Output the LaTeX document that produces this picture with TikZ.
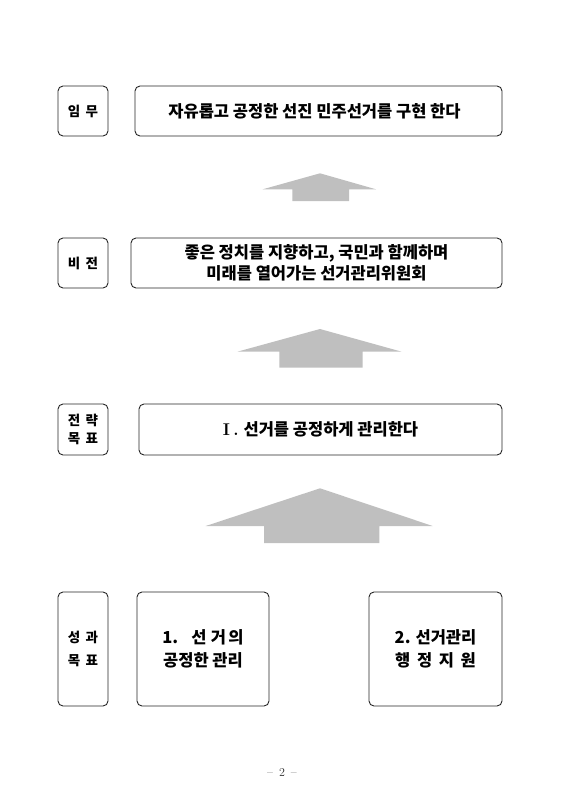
\documentclass[tikz,border=0pt]{standalone}
\usepackage{fontspec}
\newfontfamily\kr{Noto Sans CJK KR}
\tikzset{
  lab/.style={draw=black!85, line width=0.9pt, rounded corners=5pt, inner sep=0pt, minimum width=50pt, align=center, font=\kr\bfseries\fontsize{13.5}{17.5}\selectfont},
  box/.style={draw=black!85, line width=0.9pt, rounded corners=5pt, inner sep=0pt, align=center, font=\kr\bfseries\fontsize{16.5}{20.6}\selectfont},
  big/.style={box, font=\kr\bfseries\fontsize{16.5}{23}\selectfont},
  uparrow/.style={fill=black!25, draw=none}
}
\newcommand{\gap}{\hspace{0.4em}}
\begin{document}
\begin{tikzpicture}[x=1pt,y=-1pt]
\useasboundingbox (0,0) rectangle (566,800);
% row 1
\node[lab, minimum height=50pt] (l1) at (83,111) {임\gap 무};
\node[box, minimum width=367pt, minimum height=50pt] (m1) at (318.5,111) {\hspace*{-8pt}자유롭고 공정한 선진 민주선거를 구현 한다};
% row 2
\node[lab, minimum height=50pt] (l2) at (83,263) {비\gap 전};
\node[box, minimum width=371pt, minimum height=50pt] (m2) at (316.5,263) {좋은 정치를 지향하고, 국민과 함께하며\\미래를 열어가는 선거관리위원회};
% row 3
\node[lab, minimum height=51pt] (l3) at (83,429.5) {전\gap 략\\목\gap 표};
\node[box, minimum width=363pt, minimum height=51pt] (m3) at (320.5,429.5) {{\rmfamily\bfseries\fontsize{17}{20}\selectfont I\hspace{0.2em}.}\hspace{0.3em}선거를 공정하게 관리한다};
% row 4
\node[lab, minimum height=114pt, font=\kr\bfseries\fontsize{13.5}{23}\selectfont] (l4) at (83,649) {성\gap 과\\목\gap 표};
\node[big, minimum width=132pt, minimum height=114pt] (b1) at (203,649) {1.\hspace{0.8em}선\hspace{0.25em}거\hspace{0.15em}의\\공정한 관리};
\node[big, minimum width=133pt, minimum height=114pt] (b2) at (435.5,649) {2. 선거관리\\행\gap 정\gap 지\gap 원};
% arrows
\fill[uparrow] (320,173.3) -- (376,189.3) -- (349,189.3) -- (349,201) -- (292.3,201) -- (292.3,189.3) -- (262.7,189.3) -- cycle;
\fill[uparrow] (320,329) -- (401.7,351.7) -- (362.7,351.7) -- (362.7,367.7) -- (279.3,367.7) -- (279.3,351.7) -- (237.3,351.7) -- cycle;
\fill[uparrow] (320,488.3) -- (432.7,526) -- (379.3,526) -- (379.3,543) -- (264,543) -- (264,526) -- (205.7,526) -- cycle;
% page number
\node[font=\fontsize{12}{14}\selectfont, text=black!80] (pg) at (282,772) {--\hspace{0.5em}2\hspace{0.5em}--};
\end{tikzpicture}
\end{document}
